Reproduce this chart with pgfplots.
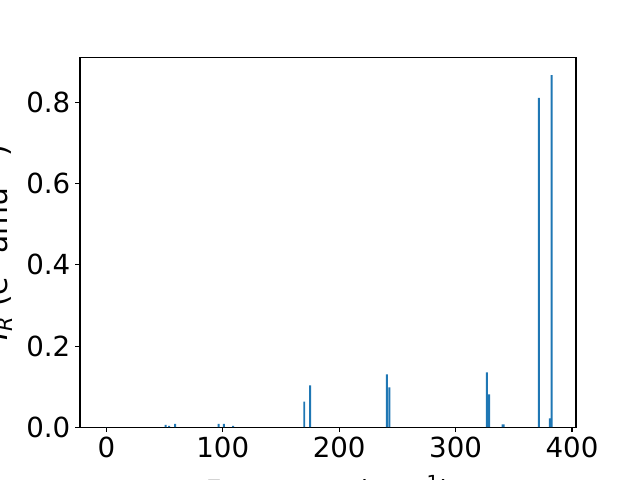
\documentclass[border=0pt]{standalone}
\usepackage{pgfplots}
\pgfplotsset{compat=1.18}
\usepackage{fontspec}
\setmainfont{DejaVu Sans}
\definecolor{mplblue}{RGB}{31,119,180}
\begin{document}
\begin{tikzpicture}
\useasboundingbox (0,0) rectangle (6.4in,4.8in);
\clip (0,0) rectangle (6.4in,4.8in);
\begin{axis}[
  at={(0.8in,0.528in)}, anchor=south west,
  scale only axis, width=4.96in, height=3.696in,
  xmin=-22.6, xmax=403.4, ymin=0, ymax=0.911,
  xtick={0,100,200,300,400},
  ytick={0,0.2,0.4,0.6,0.8},
  xtick pos=bottom, ytick pos=left,
  tick align=outside, major tick length=3.5pt,
  tick style={line width=0.8pt, black},
  axis line style={line width=0.8pt},
  minor tick num=0,
  /pgf/number format/assume math mode=true,
  yticklabel style={/pgf/number format/.cd, fixed, fixed zerofill, precision=1},
  ticklabel style={font=\fontsize{20}{24}\selectfont},
  xlabel style={font=\fontsize{20}{24}\selectfont, yshift=-6pt},
  ylabel style={font=\fontsize{21.5}{25}\selectfont, yshift=3pt},
  xlabel={Frequency (cm\textsuperscript{−1})},
  ylabel={\textit{I}\textsubscript{\textit{R}} (e\textsuperscript{2} amu\textsuperscript{−1})},
  scaled y ticks=false,
]
\addplot[ybar, bar width=1.7, fill=mplblue, draw=none] coordinates {
(0,0) (51,0.006) (54,0.003) (59,0.008) (96.5,0.008) (101,0.008) (109,0.003)
(170,0.063) (175,0.103) (241,0.130) (243.2,0.098)
(326.8,0.135) (328.8,0.081) (340.3,0.007) (341.3,0.007)
(371.5,0.812) (381,0.022) (382.5,0.868)
};
\end{axis}
\end{tikzpicture}
\end{document}
